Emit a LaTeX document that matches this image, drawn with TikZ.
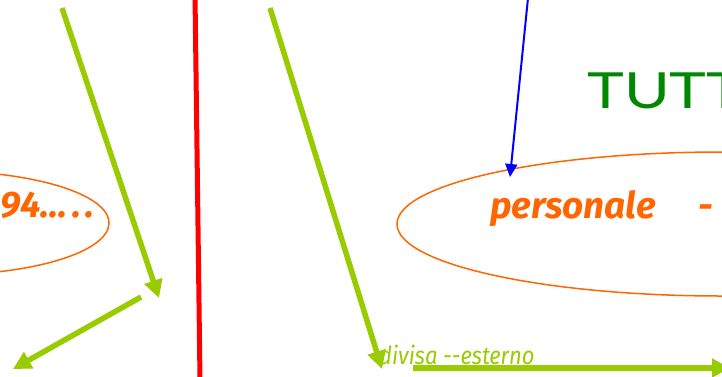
\documentclass[tikz,border=0pt]{standalone}
\usepackage{fontspec}
\setmainfont{Fira Sans}
\newfontfamily\labfont{Fira Sans}
\newfontfamily\bigfont{Lato}
\usetikzlibrary{arrows.meta,shapes.geometric}
\definecolor{lime}{RGB}{153,204,0}
\definecolor{orng}{RGB}{255,102,0}
\definecolor{dgreen}{RGB}{0,136,0}
\tikzset{
  greenarrow/.style={draw=lime, line width=5.5bp, -{Triangle[length=18bp,width=18bp]}},
  oval/.style={draw=orng, line width=1.5bp},
  orangetext/.style={text=orng, font=\labfont\bfseries\itshape\fontsize{37}{37}\selectfont, inner sep=0pt},
}
\begin{document}
\begin{tikzpicture}[x=1bp,y=-1bp]
\path[use as bounding box] (0,0) rectangle (722,376);
\clip (0,0) rectangle (722,376);
\fill[white] (0,0) rectangle (722,376);
% red divider
\coordinate (r1) at (195,-5);
\coordinate (r2) at (200,380);
\draw[red, line width=5bp] (r1) -- (r2);
% left ellipse
\node[oval, ellipse, minimum width=338bp, minimum height=104bp] (e1) at (-60,223) {};
\node[orangetext, anchor=base west] (t1) at (0,217) {94...\hspace{5bp}.\hspace{5bp}.};
% right ellipse
\node[oval, ellipse, minimum width=650bp, minimum height=144bp] (e2) at (722,224) {};
\node[orangetext, anchor=base west] (t2) at (490,218) {personale};
\node[orangetext, anchor=base west] (t3) at (698,218) {-};
% TUTT
\node[text=dgreen, font=\bigfont\fontsize{50}{50}\selectfont, anchor=base west, inner sep=0pt, xscale=1.25] (tutt) at (587,108) {TUTT};
% divisa label
\node[text=lime, font=\labfont\itshape\fontsize{25}{25}\selectfont, anchor=base west, inner sep=0pt, xscale=0.88] (div) at (379,364) {divisa -{}-esterno};
% arrows
\coordinate (a1s) at (62,8);
\coordinate (a1e) at (159,298);
\draw[greenarrow] (a1s) -- (a1e);
\coordinate (a2s) at (141,297);
\coordinate (a2e) at (13,369);
\draw[greenarrow] (a2s) -- (a2e);
\coordinate (a3s) at (270,8);
\coordinate (a3e) at (382,369);
\draw[greenarrow] (a3s) -- (a3e);
\coordinate (a4s) at (413,368);
\coordinate (a4e) at (730,368);
\draw[greenarrow] (a4s) -- (a4e);
\coordinate (bs) at (528,-2);
\coordinate (be) at (510,177);
\draw[blue, line width=2bp, -{Triangle[length=13bp,width=12bp]}] (bs) -- (be);
\end{tikzpicture}
\end{document}
